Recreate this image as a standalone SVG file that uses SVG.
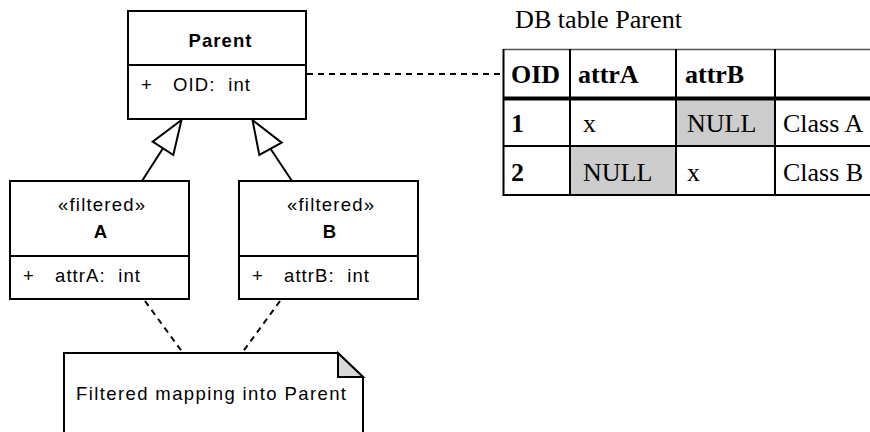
<svg xmlns="http://www.w3.org/2000/svg" width="870" height="432" viewBox="0 0 870 432">
<style>
.box{fill:#fff;stroke:#000;stroke-width:2}
.ln{stroke:#000;stroke-width:2;fill:none}
.dash{stroke:#000;stroke-width:2;fill:none;stroke-dasharray:6 5}
.s{font-family:"Liberation Sans",Arial,sans-serif;font-size:18.5px;fill:#000;white-space:pre}
.b{font-weight:bold}
.m{text-anchor:middle}
.t{font-family:"Liberation Serif","Times New Roman",serif;font-size:26px;fill:#000}
.tl{stroke:#000;stroke-width:2}
</style>
<rect width="870" height="432" fill="#fff"/>
<g id="connectors">
<line class="dash" x1="307" y1="74" x2="503" y2="74"/>
<line class="dash" x1="145" y1="301" x2="183" y2="353"/>
<line class="dash" x1="280" y1="301" x2="242" y2="353"/>
<line class="ln" x1="163" y1="148.3" x2="142" y2="181"/>
<polygon class="box" points="181.5,120 152.7,141.7 173.3,155"/>
<line class="ln" x1="270.5" y1="148.8" x2="292" y2="181"/>
<polygon class="box" points="252.5,120 281.7,142.7 259.3,155"/>
</g>
<g id="parent">
<rect class="box" x="128" y="11" width="178" height="108"/>
<line class="ln" x1="128" y1="65" x2="306" y2="65"/>
<text class="s b m" x="220" y="47" textLength="63" lengthAdjust="spacing">Parent</text>
<text class="s" x="141" y="91">+</text>
<text class="s" x="173" y="91" textLength="77" lengthAdjust="spacing">OID:  int</text>
</g>
<g id="classA">
<rect class="box" x="10" y="181" width="179" height="118"/>
<line class="ln" x1="10" y1="256" x2="189" y2="256"/>
<text class="s m" x="101.5" y="211" textLength="87" lengthAdjust="spacing">«filtered»</text>
<text class="s b m" x="100.5" y="238">A</text>
<text class="s" x="23" y="282">+</text>
<text class="s" x="55" y="282" textLength="85" lengthAdjust="spacing">attrA:  int</text>
</g>
<g id="classB">
<rect class="box" x="239" y="181" width="179" height="118"/>
<line class="ln" x1="239" y1="256" x2="418" y2="256"/>
<text class="s m" x="330.5" y="211" textLength="87" lengthAdjust="spacing">«filtered»</text>
<text class="s b m" x="329.5" y="238">B</text>
<text class="s" x="252" y="282">+</text>
<text class="s" x="284" y="282" textLength="85" lengthAdjust="spacing">attrB:  int</text>
</g>
<g id="note">
<path class="box" d="M64,440 V353 H338 L363,377 V440"/>
<polygon points="338,353 338,377 363,377" fill="#d9d9d9" stroke="#000" stroke-width="2" stroke-linejoin="miter"/>
<text class="s" x="76" y="400" textLength="270" lengthAdjust="spacing">Filtered mapping into Parent</text>
</g>
<g id="dbtable">
<text class="t" x="515" y="28" textLength="167" lengthAdjust="spacingAndGlyphs">DB table Parent</text>
<rect x="676" y="98" width="100" height="48" fill="#cccccc"/>
<rect x="570" y="146" width="106" height="49" fill="#cccccc"/>
<line x1="503" y1="49.5" x2="870" y2="49.5" stroke="#555" stroke-width="1.5"/>
<line x1="503" y1="98.5" x2="870" y2="98.5" stroke="#000" stroke-width="4"/>
<line class="tl" x1="503" y1="146" x2="870" y2="146"/>
<line class="tl" x1="503" y1="195" x2="870" y2="195"/>
<line class="tl" x1="503.5" y1="49" x2="503.5" y2="196"/>
<line class="tl" x1="570" y1="49" x2="570" y2="196"/>
<line class="tl" x1="676" y1="49" x2="676" y2="196"/>
<line class="tl" x1="775" y1="49" x2="775" y2="196"/>
<text class="t b" x="511" y="83">OID</text>
<text class="t b" x="578" y="83">attrA</text>
<text class="t b" x="685" y="83">attrB</text>
<text class="t b" x="511" y="132">1</text>
<text class="t" x="583" y="132">x</text>
<text class="t" x="687" y="132">NULL</text>
<text class="t" x="783" y="132">Class A</text>
<text class="t b" x="511" y="181">2</text>
<text class="t" x="583" y="181">NULL</text>
<text class="t" x="687" y="181">x</text>
<text class="t" x="783" y="181">Class B</text>
</g>
</svg>
